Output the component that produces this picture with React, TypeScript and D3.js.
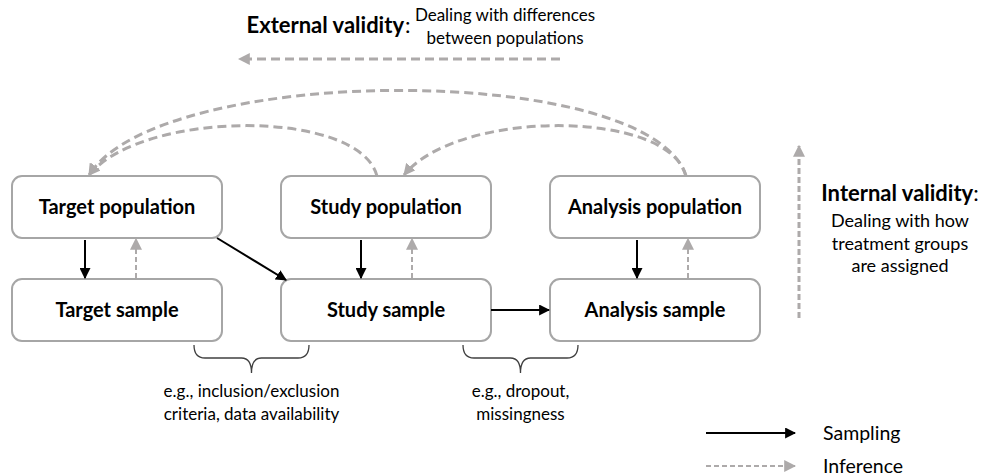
import React from "react";
import * as d3 from "d3";

// ---- data ----
const boxLabels = ["Target population", "Study population", "Analysis population", "Target sample", "Study sample", "Analysis sample"];
const boxCols = [0, 1, 2, 0, 1, 2];
const boxRows = [0, 0, 0, 1, 1, 1];
const columns = [0, 1, 2];

// inference curves: [fromCol, toCol, peak level (0 = outer, 1 = inner)]
const curveFrom = [2, 1, 2];
const curveTo = [0, 0, 1];
const curveLevel = [0, 1, 1];

const braceLabels = [["e.g., inclusion/exclusion", "criteria, data availability"], ["e.g., dropout,", "missingness"]];
const braceBetween = [[0, 1], [1, 2]];

const legendLabels = ["Sampling", "Inference"];
const internalLines = ["Dealing with how", "treatment groups", "are assigned"];
const externalLines = ["Dealing with differences", "between populations"];

const GREY = "#adaaaa";
const BOX = "#a6a6a6";
const FONT = "Lato, 'Open Sans', sans-serif";

export default function App() {
  const W = 984, H = 476;
  const boxW = 210, boxH = 62;
  const xBox = d3.scaleLinear().domain([0, 2]).range([12, 550]);
  const yBox = d3.scaleLinear().domain([0, 1]).range([176, 279]);
  const xSamp = d3.scaleLinear().domain([0, 2]).range([85, 637]);
  const xInf = d3.scaleLinear().domain([0, 2]).range([136, 688]);
  const curveStart = d3.scaleLinear().domain([1, 2]).range([377, 686]);
  const curveEnd = d3.scaleLinear().domain([0, 1]).range([89, 404]);
  const peakY = d3.scaleLinear().domain([0, 1]).range([62, 109]);

  const curvePath = (i: number) => {
    const x0 = curveStart(curveFrom[i]);
    const x1 = curveEnd(curveTo[i]);
    const y0 = yBox(0);
    const cy = peakY(curveLevel[i]);
    const p = d3.path();
    p.moveTo(x0, y0);
    const span = x0 - x1;
    p.bezierCurveTo(x0 - span * 0.06, cy, x1 + span * (curveLevel[i] === 0 ? 0.12 : 0.19), cy, x1, y0 - 1);
    return p.toString();
  };

  const bracePath = (a: number, b: number) => {
    const x0 = xBox(a) + boxW - 28;
    const x1 = xBox(b) + 28;
    const xm = (x0 + x1) / 2;
    const yt = 345, ym = 358, yb = 373;
    const p = d3.path();
    p.moveTo(x0, yt);
    p.quadraticCurveTo(x0, ym, x0 + 11, ym);
    p.lineTo(xm - 10, ym);
    p.quadraticCurveTo(xm, ym, xm, yb);
    p.quadraticCurveTo(xm, ym, xm + 10, ym);
    p.lineTo(x1 - 11, ym);
    p.quadraticCurveTo(x1, ym, x1, yt);
    return { d: p.toString(), xm };
  };

  return (
    <svg width={W} height={H} style={{ position: "absolute", left: 0, top: 0 }} fontFamily={FONT}>
      <defs>
        <marker id="hb" viewBox="0 0 10 10" refX="9" refY="5" markerWidth="11" markerHeight="11" markerUnits="userSpaceOnUse" orient="auto">
          <path d="M0,0 L10,5 L0,10 z" fill="#000" />
        </marker>
        <marker id="hg" viewBox="0 0 10 10" refX="9" refY="5" markerWidth="12" markerHeight="12" markerUnits="userSpaceOnUse" orient="auto">
          <path d="M0,0 L10,5 L0,10 z" fill={GREY} />
        </marker>
      </defs>
      <rect width={W} height={H} fill="#fff" />

      {/* External validity */}
      <text x={404} y={33} textAnchor="end" fontSize={22} fontWeight="bold">External validity</text>
      <text x={405} y={33} fontSize={22}>:</text>
      {externalLines.map((t, i) => (
        <text key={t} x={505} y={21 + i * 23} textAnchor="middle" fontSize={17}>{t}</text>
      ))}
      <line x1={560} y1={59} x2={239} y2={59} stroke={GREY} strokeWidth={3} strokeDasharray="9,5" markerEnd="url(#hg)" />

      {/* inference curves */}
      {curveFrom.map((_, i) => (
        <path key={"c" + i} d={curvePath(i)} fill="none" stroke={GREY} strokeWidth={3} strokeDasharray="9,5" markerEnd="url(#hg)" />
      ))}

      {/* boxes */}
      {boxLabels.map((lab, i) => (
        <g key={lab}>
          <rect x={xBox(boxCols[i])} y={yBox(boxRows[i])} width={boxW} height={boxH} rx={10} fill="#fff" stroke={BOX} strokeWidth={2} />
          <text x={xBox(boxCols[i]) + boxW / 2} y={yBox(boxRows[i]) + boxH / 2 + 7} textAnchor="middle" fontSize={20} fontWeight="bold">{lab}</text>
        </g>
      ))}

      {/* vertical sampling / inference arrows */}
      {columns.map((c) => (
        <g key={"v" + c}>
          <line x1={xSamp(c)} y1={yBox(0) + boxH + 2} x2={xSamp(c)} y2={yBox(1) - 1} stroke="#000" strokeWidth={2} markerEnd="url(#hb)" />
          <line x1={xInf(c)} y1={yBox(1) - 1} x2={xInf(c)} y2={yBox(0) + boxH + 1} stroke={GREY} strokeWidth={2} strokeDasharray="5,3" markerEnd="url(#hg)" />
        </g>
      ))}

      {/* diagonal and horizontal sampling arrows */}
      <line x1={xBox(0) + boxW - 5} y1={yBox(0) + boxH} x2={xBox(1) + 5} y2={yBox(1) + 1} stroke="#000" strokeWidth={2} markerEnd="url(#hb)" />
      <line x1={xBox(1) + boxW} y1={yBox(1) + boxH / 2} x2={xBox(2) - 1} y2={yBox(1) + boxH / 2} stroke="#000" strokeWidth={2} markerEnd="url(#hb)" />

      {/* internal validity */}
      <line x1={799} y1={318} x2={799} y2={146} stroke={GREY} strokeWidth={3} strokeDasharray="6,3" markerEnd="url(#hg)" />
      <text x={900} y={201} textAnchor="middle" fontSize={22} fontWeight="bold">Internal validity<tspan fontWeight="normal">:</tspan></text>
      {internalLines.map((t, i) => (
        <text key={t} x={900} y={227 + i * 22.5} textAnchor="middle" fontSize={18}>{t}</text>
      ))}

      {/* braces */}
      {braceBetween.map(([a, b], i) => {
        const br = bracePath(a, b);
        return (
          <g key={"b" + i}>
            <path d={br.d} fill="none" stroke="#404040" strokeWidth={1.3} />
            {braceLabels[i].map((t, j) => (
              <text key={t} x={br.xm} y={397 + j * 23} textAnchor="middle" fontSize={17}>{t}</text>
            ))}
          </g>
        );
      })}

      {/* legend */}
      {legendLabels.map((t, i) => (
        <g key={t}>
          <line x1={706} y1={433 + i * 33} x2={795} y2={433 + i * 33} stroke={i === 0 ? "#000" : GREY} strokeWidth={2} strokeDasharray={i === 0 ? undefined : "5,3"} markerEnd={i === 0 ? "url(#hb)" : "url(#hg)"} />
          <text x={823} y={440 + i * 33} fontSize={19.5}>{t}</text>
        </g>
      ))}
    </svg>
  );
}
